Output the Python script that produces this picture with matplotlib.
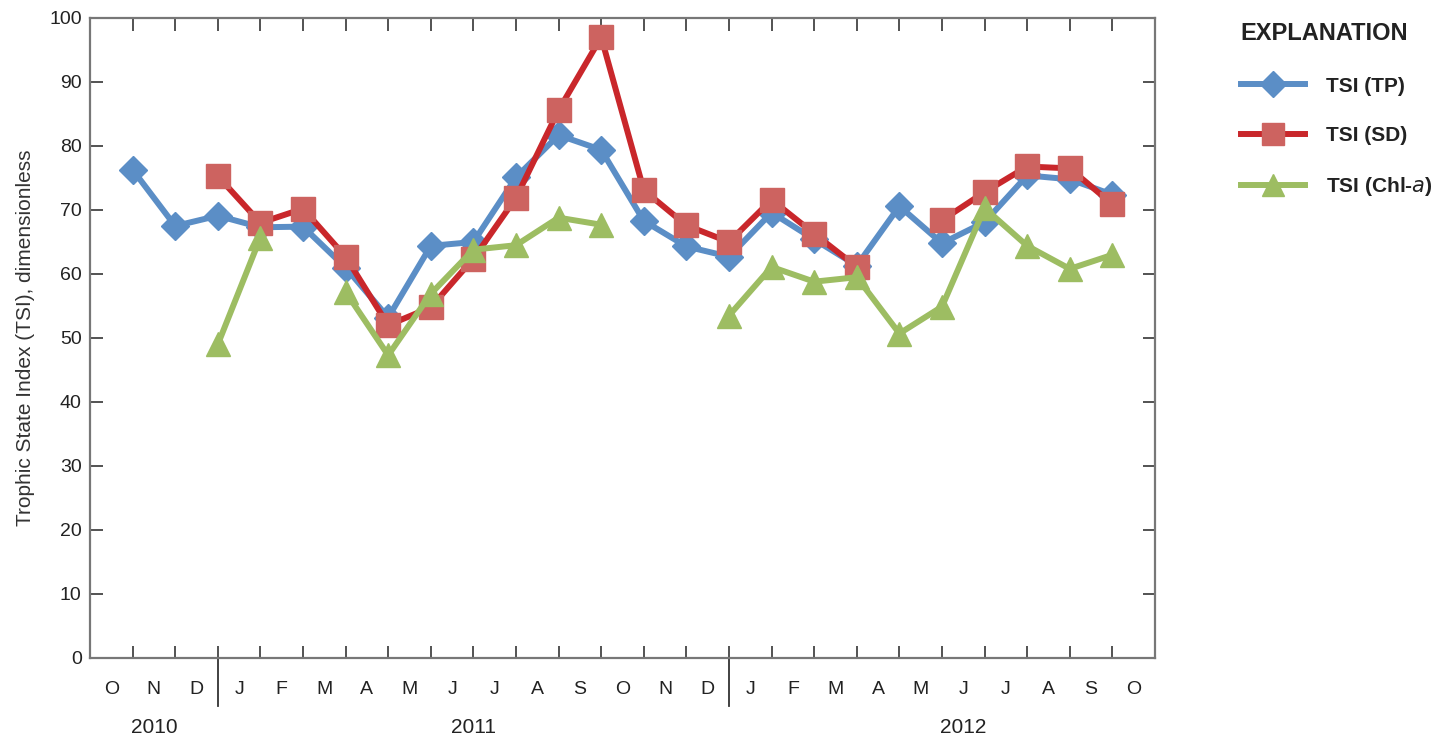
import numpy as np
import matplotlib
matplotlib.use("Agg")
import matplotlib.pyplot as plt

plt.rcParams['font.family'] = ['Liberation Sans Narrow', 'Liberation Sans', 'DejaVu Sans']

nan = np.nan
month_labels = ["O", "N", "D", "J", "F", "M", "A", "M", "J", "J", "A", "S",
                "O", "N", "D", "J", "F", "M", "A", "M", "J", "J", "A", "S", "O"]
years = ["2010", "2011", "2012"]
sample_pos = list(range(1, 25))

tsi_tp = [76.3, 67.5, 69.1, 67.3, 67.4, 61.0, 53.2, 64.4, 65.0, 75.1, 81.7, 79.4,
          68.3, 64.3, 62.7, 69.6, 65.4, 61.3, 70.6, 64.8, 68.1, 75.4, 74.8, 72.4]
tsi_sd = [nan, nan, 75.3, 68.0, 70.2, 62.7, 52.0, 54.8, 62.4, 71.9, 85.6, 97.0,
          73.1, 67.6, 65.0, 71.6, 66.3, 61.1, nan, 68.4, 72.8, 76.8, 76.5, 70.9]
tsi_chla = [nan, nan, 49.0, 65.7, nan, 57.2, 47.3, 56.9, 63.8, 64.5, 68.8, 67.7,
            nan, nan, 53.5, 61.1, 58.8, 59.5, 50.7, 54.9, 70.3, 64.4, 60.8, 63.0]

fig = plt.figure(figsize=(14.39, 7.40), dpi=100)
ax = fig.add_axes([90/1439, 82/740, 1065/1439, 640/740])

blue = "#5B8EC6"
red_line = "#C9272B"
red_mk = "#CD6360"
green = "#9DBD62"

ax.plot(sample_pos, tsi_tp, color=blue, lw=4.3, marker="D", ms=14,
        mfc=blue, mec=blue, label="TSI (TP)", zorder=3)
ax.plot(sample_pos, tsi_sd, color=red_line, lw=4.3, marker="s", ms=17,
        mfc=red_mk, mec=red_mk, label="TSI (SD)", zorder=4)
ax.plot(sample_pos, tsi_chla, color=green, lw=4.3, marker="^", ms=17,
        mfc=green, mec=green, label="TSI (Chl-$\\it{a}$)", zorder=5)

ax.set_xlim(0, 25)
ax.set_ylim(0, 100)
ax.set_yticks(np.arange(0, 101, 10))
ax.set_xticks(np.arange(1, 25))
ax.set_xticklabels([])
ax.tick_params(axis="both", direction="in", length=9, width=1.3, color="#444444",
               labelsize=14, top=True, right=True)
ax.tick_params(axis="y", pad=6)
for s in ax.spines.values():
    s.set_color("#777777")
    s.set_linewidth(1.6)

for i, m in enumerate(month_labels):
    ax.text(i + 0.5, -5.0, m, ha="center", va="center", fontsize=14,
            transform=ax.transData, clip_on=False, color="#222222")

for xv in (3, 15):
    ax.plot([xv, xv], [0, -7.5], color="#333333", lw=1.3, clip_on=False)

year_x = [1.5, 9.0, 20.5]
for xv, y in zip(year_x, years):
    ax.text(xv, -10.9, y, ha="center", va="center", fontsize=15,
            color="#222222", clip_on=False)

ax.set_ylabel("Trophic State Index (TSI), dimensionless", fontsize=15,
              color="#333333", labelpad=10)
for lab in ax.get_yticklabels():
    lab.set_color("#222222")

leg = fig.legend(loc="upper left", bbox_to_anchor=(1222/1439, 1 - 58/740),
                 frameon=False, handlelength=3.1, labelspacing=1.45,
                 handletextpad=1.0, markerscale=0.95,
                 prop={"weight": "bold", "size": 15})
for t in leg.get_texts():
    t.set_color("#222222")
fig.text(1240/1439, 1 - 33/740, "EXPLANATION", fontsize=17, fontweight="bold",
         color="#222222", ha="left", va="center")

fig.savefig("out.png", dpi=100)
